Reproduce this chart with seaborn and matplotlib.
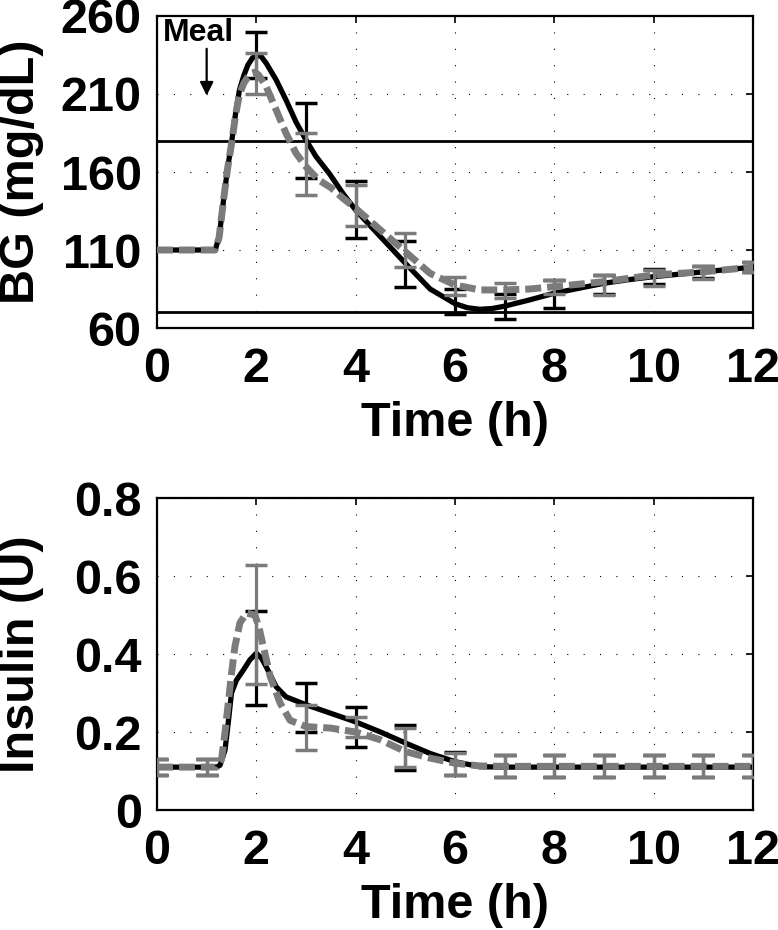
import numpy as np
import pandas as pd
import matplotlib
matplotlib.use("Agg")
import matplotlib.pyplot as plt
import seaborn as sns

# ---------------- data ----------------
# Blood glucose curves (mg/dL)
bg_black_t = [0, 1.0, 1.17, 1.25, 1.34, 1.42, 1.5, 1.58, 1.66, 1.75, 1.83, 1.92, 2.0,
              2.1, 2.2, 2.4, 2.6, 2.8, 3.0, 3.2, 3.47, 3.75, 4.0, 4.5, 5.0, 5.5, 6.0,
              6.25, 6.5, 6.75, 7.0, 7.5, 8.0, 8.5, 9.0, 9.5, 10.0, 11.0, 12.0]
bg_black_v = [110, 110, 110, 118, 142, 162, 178.5, 197, 212.6, 222, 228.6, 233, 235,
              234, 229.7, 219, 206, 192, 180.5, 170, 159, 146, 135.6, 118.5, 101.5, 85, 75.6,
              73, 72, 72.5, 74, 78, 82.3, 85.5, 88.7, 91, 92.9, 96, 99]

bg_gray_t = [0, 1.0, 1.17, 1.25, 1.34, 1.42, 1.5, 1.58, 1.66, 1.75, 1.83, 1.92, 1.97,
             2.05, 2.2, 2.4, 2.6, 2.8, 3.0, 3.25, 3.5, 3.75, 4.0, 4.5, 5.0, 5.5, 6.0,
             6.5, 7.0, 7.5, 8.0, 9.0, 10.0, 11.0, 12.0]
bg_gray_v = [110, 110, 110, 118, 142, 162, 178, 196, 210, 217, 221, 223.5, 224,
             222, 214.7, 199.7, 184.7, 172, 163.4, 155, 150, 143, 136.7, 122.8, 108.9, 95, 87.6,
             84.4, 84.4, 85, 86.5, 89.7, 94, 96, 99]

# Blood glucose error bars (hourly mean +/- sd)
bg_err_t = [2, 3, 4, 5, 6, 7, 8, 9, 10, 11, 12]
bg_black_mean = [235, 180, 136, 101, 77, 74, 82, 88, 93, 96, 99]
bg_black_err = [15, 24, 18, 15, 8, 8, 9, 6, 5, 4, 3]
bg_gray_mean = [223, 165, 138.5, 110, 87, 84, 86.5, 87.5, 92, 95.5, 99]
bg_gray_err = [13, 20, 13, 10.7, 6, 5, 4.5, 6.5, 5, 4, 3]

# Insulin curves (U)
ins_black_t = [0, 1.0, 1.2, 1.27, 1.37, 1.44, 1.5, 1.6, 1.74, 1.87, 2.0, 2.1, 2.2, 2.4,
               2.6, 3.0, 3.5, 4.0, 4.5, 5.0, 5.5, 6.0, 6.5, 7.0, 8.0, 10.0, 12.0]
ins_black_v = [0.11, 0.11, 0.11, 0.115, 0.154, 0.23, 0.30, 0.333, 0.359, 0.385, 0.402, 0.39,
               0.367, 0.316, 0.29, 0.27, 0.248, 0.226, 0.2, 0.172, 0.145, 0.124, 0.111, 0.11,
               0.11, 0.11, 0.11]

ins_gray_t = [0, 1.0, 1.2, 1.3, 1.37, 1.44, 1.5, 1.57, 1.67, 1.8, 1.97, 2.05, 2.14, 2.28,
              2.48, 2.68, 3.0, 3.5, 4.0, 4.5, 5.0, 5.5, 6.0, 6.5, 7.0, 8.0, 10.0, 12.0]
ins_gray_v = [0.11, 0.11, 0.11, 0.13, 0.2, 0.28, 0.35, 0.42, 0.48, 0.505, 0.50, 0.47, 0.42,
              0.342, 0.274, 0.23, 0.214, 0.21, 0.2, 0.18, 0.15, 0.133, 0.12, 0.113, 0.112,
              0.112, 0.112, 0.112]

# Insulin error bars
ins_err_t = [0, 1, 2, 3, 4, 5, 6, 7, 8, 9, 10, 11, 12]
ins_black_mean = [0.11, 0.11, 0.39, 0.263, 0.213, 0.16, 0.12, 0.113, 0.113, 0.113, 0.113, 0.113, 0.113]
ins_black_err = [0.02, 0.02, 0.12, 0.063, 0.052, 0.058, 0.03, 0.028, 0.028, 0.028, 0.028, 0.028, 0.028]
ins_gray_mean = [0.11, 0.11, 0.475, 0.212, 0.213, 0.16, 0.118, 0.113, 0.113, 0.113, 0.113, 0.113, 0.113]
ins_gray_err = [0.021, 0.021, 0.152, 0.057, 0.026, 0.05, 0.028, 0.028, 0.028, 0.028, 0.028, 0.028, 0.028]

bg_limits = [70, 180]
x_ticks = [0, 2, 4, 6, 8, 10, 12]
bg_ticks = [60, 110, 160, 210, 260]
ins_ticks = [0, 0.2, 0.4, 0.6, 0.8]
ins_tick_labels = ["0", "0.2", "0.4", "0.6", "0.8"]

# ---------------- style ----------------
sns.set_theme(style="white")
plt.rcParams["font.family"] = ["Liberation Sans", "DejaVu Sans"]
plt.rcParams["font.weight"] = "bold"
plt.rcParams["axes.labelweight"] = "bold"
plt.rcParams["lines.scale_dashes"] = False
plt.rcParams["text.color"] = "black"
plt.rcParams["axes.labelcolor"] = "black"
plt.rcParams["xtick.color"] = "black"
plt.rcParams["ytick.color"] = "black"

GRAY = "#7b7b7b"
FS = 35

fig = plt.figure(figsize=(7.78, 9.3), dpi=100)
ax1 = fig.add_axes([0.2018, 0.6473, 0.766, 0.3355])
ax2 = fig.add_axes([0.2018, 0.129, 0.766, 0.3355])

def draw(ax, bt, bv, gt, gv, et, bm, be, gm, ge):
    sns.lineplot(x=bt, y=bv, ax=ax, color="black", linewidth=3.8,
                 estimator=None, sort=False, legend=False, zorder=3)
    ax.errorbar(et, bm, yerr=be, fmt="none", ecolor="black", elinewidth=2.3,
                capsize=8, capthick=2.5, zorder=4)
    sns.lineplot(x=gt, y=gv, ax=ax, color=GRAY, linewidth=5.0,
                 linestyle=(0, (11.5, 4.3)), estimator=None, sort=False,
                 legend=False, zorder=5)
    ax.errorbar(et, gm, yerr=ge, fmt="none", ecolor=GRAY, elinewidth=2.3,
                capsize=8, capthick=2.5, zorder=6)

draw(ax1, bg_black_t, bg_black_v, bg_gray_t, bg_gray_v,
     bg_err_t, bg_black_mean, bg_black_err, bg_gray_mean, bg_gray_err)
draw(ax2, ins_black_t, ins_black_v, ins_gray_t, ins_gray_v,
     ins_err_t, ins_black_mean, ins_black_err, ins_gray_mean, ins_gray_err)

for lim in bg_limits:
    ax1.axhline(lim, color="black", linewidth=2.0, zorder=2)

ax1.text(0.83, 249, "Meal", fontsize=23, fontweight="bold", ha="center", va="center")
ax1.annotate("", xy=(1.0, 209), xytext=(1.0, 239),
             arrowprops=dict(arrowstyle="-|>", color="black", lw=1.6,
                             mutation_scale=20, shrinkA=0, shrinkB=0))

for ax in (ax1, ax2):
    ax.set_xlim(0, 12)
    ax.set_xticks(x_ticks)
    ax.set_xticklabels([str(v) for v in x_ticks])
    ax.grid(True, color="black", linestyle=(0, (0.8, 11)), linewidth=0.8)
    ax.tick_params(direction="in", length=5, width=1.2, top=True, right=True,
                   labelsize=FS, colors="black")
    ax.tick_params(axis="x", pad=14)
    ax.tick_params(axis="y", pad=11)
    for s in ax.spines.values():
        s.set_linewidth(1.6)
        s.set_color("black")
    ax.set_xlabel("Time (h)", fontsize=FS, fontweight="bold")
    ax.xaxis.set_label_coords(0.5, -0.235)
    for lab in ax.get_xticklabels() + ax.get_yticklabels():
        lab.set_fontweight("bold")

ax1.set_ylim(60, 260)
ax1.set_yticks(bg_ticks)
ax1.set_yticklabels([str(v) for v in bg_ticks], fontweight="bold")
ax1.set_ylabel("BG (mg/dL)", fontsize=FS, fontweight="bold")
ax1.yaxis.set_label_coords(-0.19, 0.5)

ax2.set_ylim(0, 0.8)
ax2.set_yticks(ins_ticks)
ax2.set_yticklabels(ins_tick_labels, fontweight="bold")
ax2.set_ylabel("Insulin (U)", fontsize=FS, fontweight="bold")
ax2.yaxis.set_label_coords(-0.19, 0.5)

fig.savefig("out.png", dpi=100)
